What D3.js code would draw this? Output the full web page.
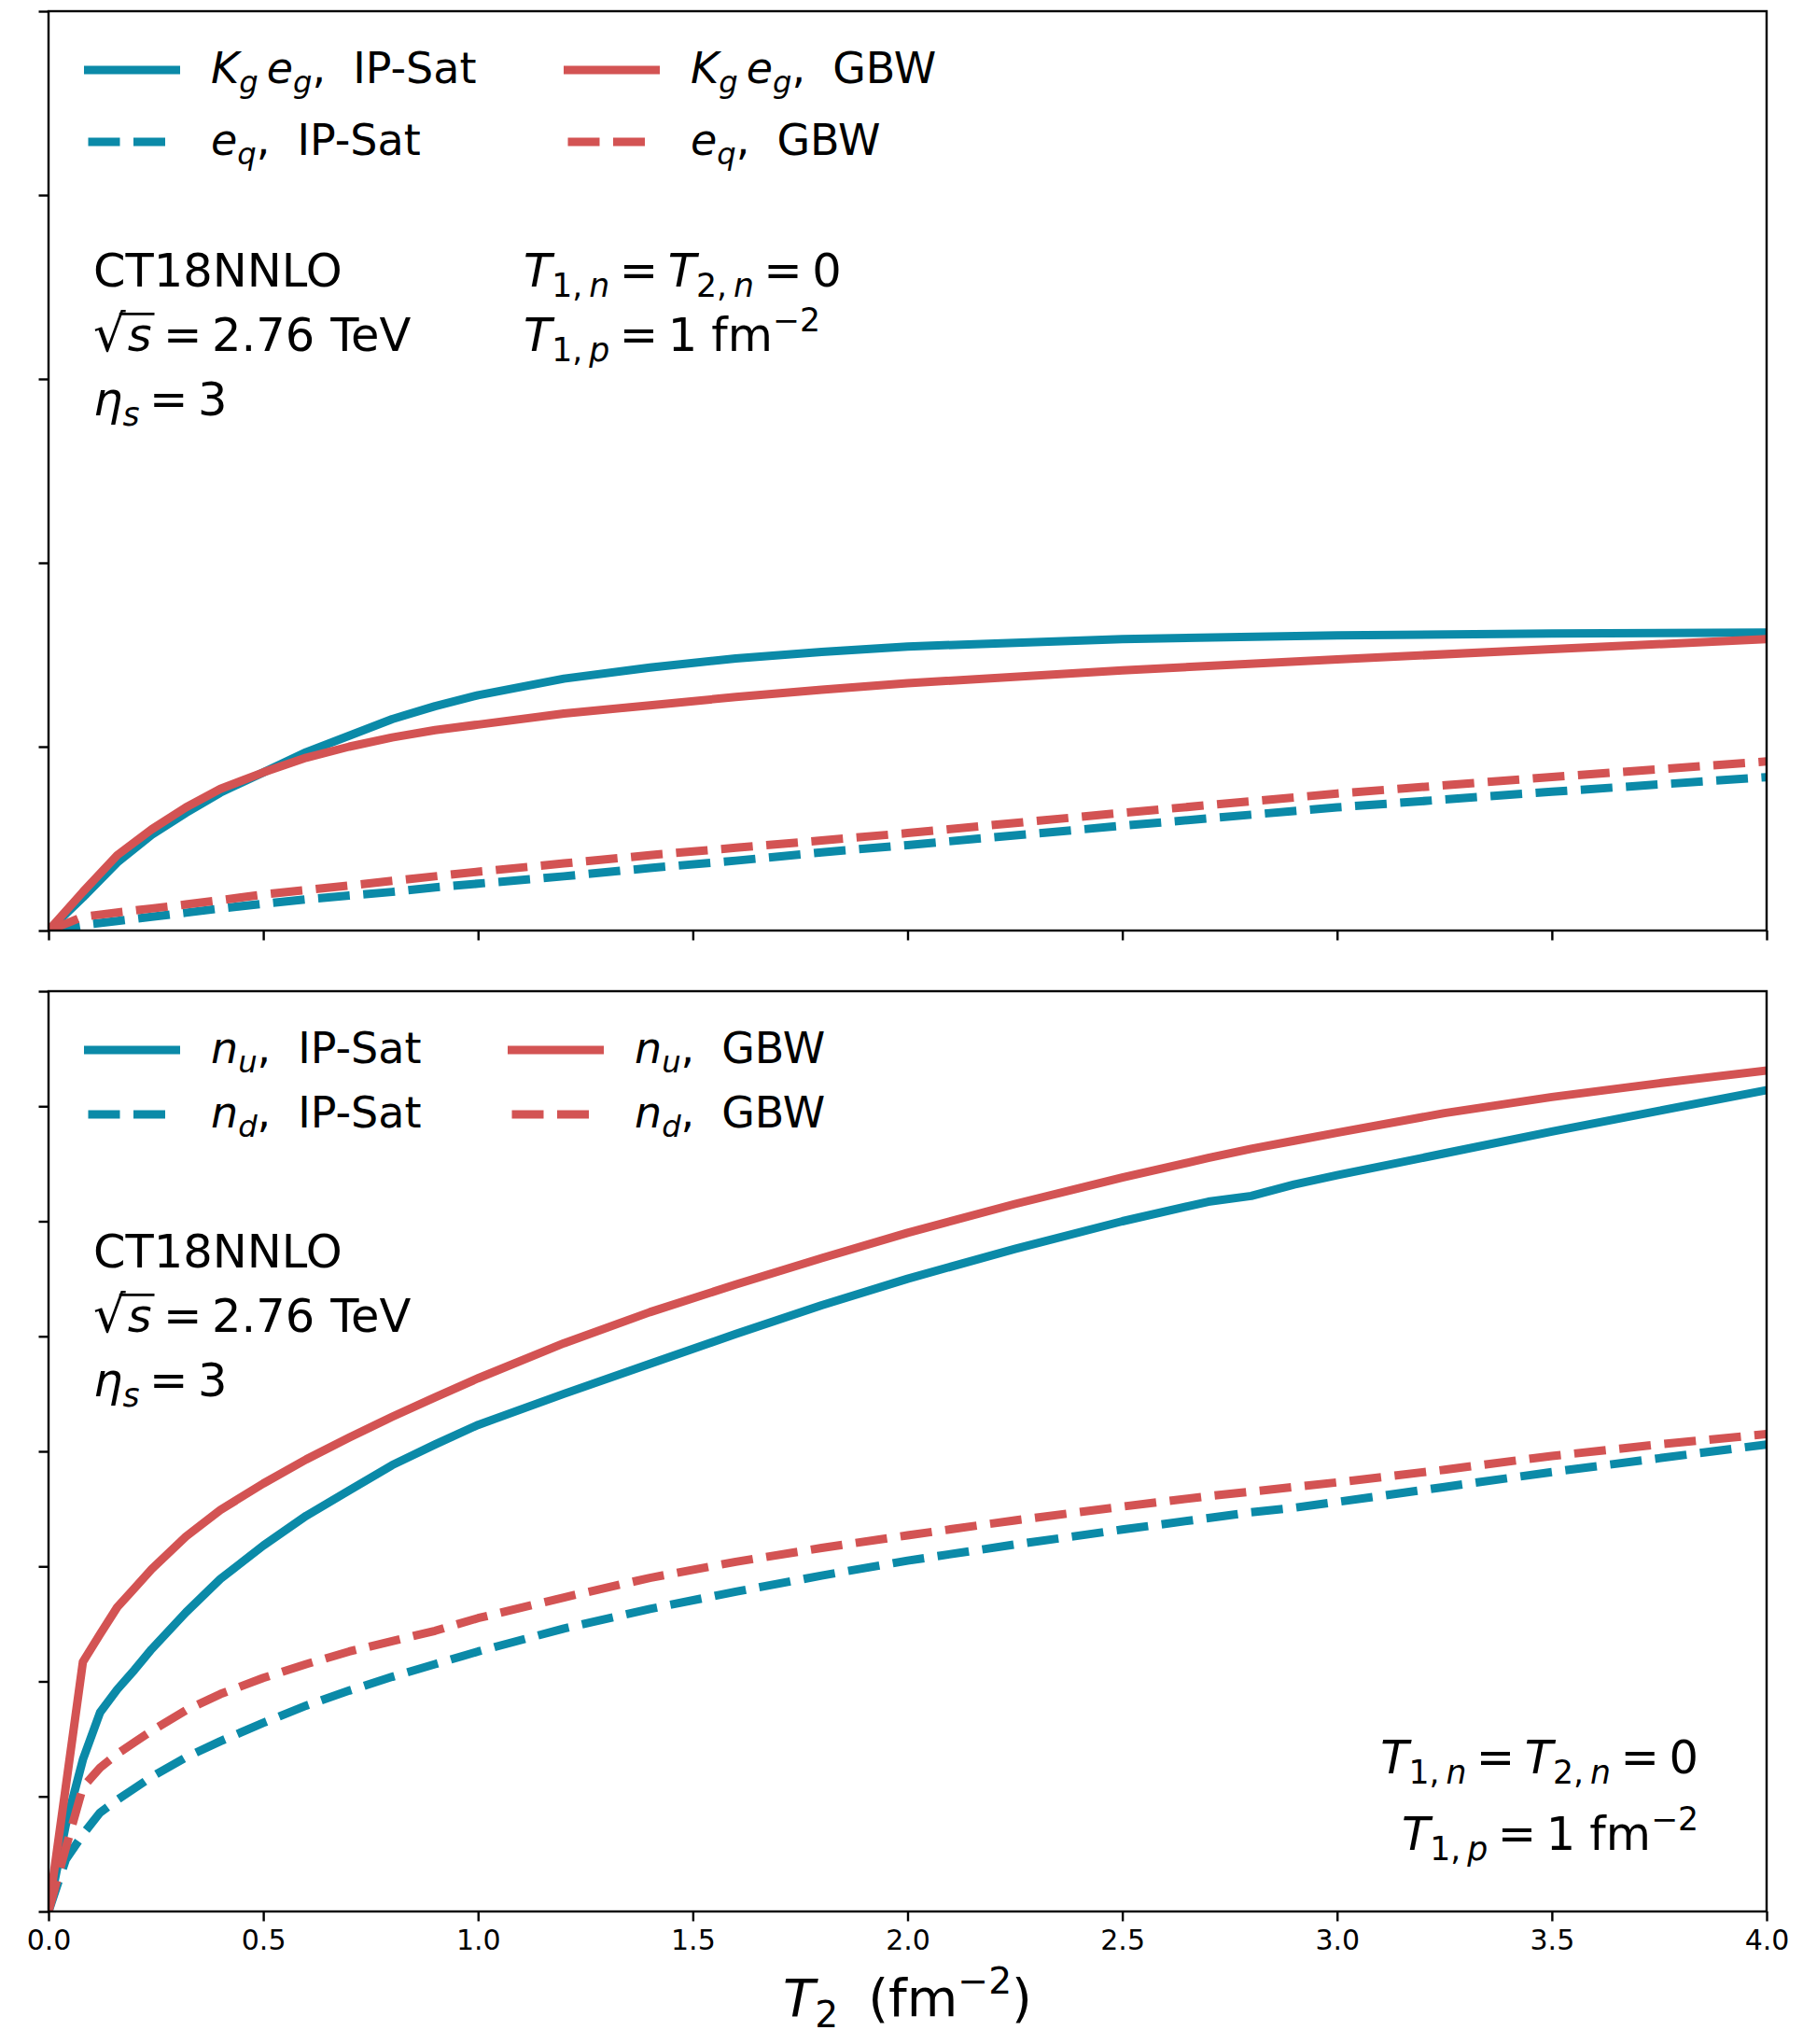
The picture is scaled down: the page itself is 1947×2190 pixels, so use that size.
<!DOCTYPE html>
<html>
<head>
<meta charset="utf-8">
<script src="https://cdn.jsdelivr.net/npm/d3@7"></script>
<style>
  html, body { margin: 0; padding: 0; background: #ffffff; }
  svg { display: block; }
  text { font-family: "DejaVu Sans", sans-serif; fill: #000; }
</style>
</head>
<body>
<svg id="chart" width="1947" height="2190"></svg>
<script>
// ---------------- data ----------------
const xTicks = [0, 0.5, 1.0, 1.5, 2.0, 2.5, 3.0, 3.5, 4.0];
const yTicksTop = [0, 1, 2, 3, 4, 5];
const yTicksBot = [0, 1, 2, 3, 4, 5, 6, 7, 8];

// top panel: K_g e_g and e_q vs T2
const T_top = [0, 0.08, 0.16, 0.24, 0.32, 0.4, 0.5, 0.6, 0.7, 0.8, 0.9, 1.0, 1.2, 1.4, 1.6, 1.8, 2.0, 2.5, 3.0, 3.5, 4.0];
const kgeg_ipsat = [0, 0.18, 0.37, 0.52, 0.64, 0.75, 0.86, 0.97, 1.06, 1.15, 1.22, 1.28, 1.37, 1.43, 1.48, 1.515, 1.545, 1.585, 1.605, 1.615, 1.62];
const eq_ipsat   = [0, 0.03, 0.052, 0.075, 0.097, 0.12, 0.146, 0.17, 0.19, 0.21, 0.235, 0.255, 0.295, 0.34, 0.38, 0.425, 0.465, 0.57, 0.67, 0.755, 0.834];
const kgeg_gbw   = [0, 0.21, 0.41, 0.55, 0.67, 0.77, 0.86, 0.94, 1.00, 1.05, 1.09, 1.12, 1.18, 1.225, 1.27, 1.31, 1.345, 1.415, 1.475, 1.53, 1.585];
const eq_gbw     = [0, 0.075, 0.098, 0.12, 0.142, 0.165, 0.196, 0.22, 0.245, 0.27, 0.295, 0.32, 0.365, 0.41, 0.45, 0.49, 0.53, 0.64, 0.745, 0.835, 0.92];

// bottom panel: n_u and n_d vs T2
const T_bot = [0, 0.04, 0.08, 0.12, 0.16, 0.2, 0.24, 0.32, 0.4, 0.5, 0.6, 0.7, 0.8, 0.9, 1.0, 1.2, 1.4, 1.6, 1.8, 2.0, 2.25, 2.5, 2.7, 2.8, 2.9, 3.0, 3.25, 3.5, 3.75, 4.0];
const nu_ipsat = [0, 0.75, 1.32, 1.73, 1.93, 2.10, 2.28, 2.60, 2.89, 3.18, 3.44, 3.66, 3.88, 4.06, 4.23, 4.50, 4.76, 5.02, 5.27, 5.50, 5.76, 6.00, 6.17, 6.22, 6.32, 6.40, 6.59, 6.78, 6.96, 7.14];
const nd_ipsat = [0, 0.45, 0.67, 0.86, 0.97, 1.07, 1.17, 1.34, 1.48, 1.64, 1.79, 1.92, 2.04, 2.15, 2.26, 2.46, 2.63, 2.78, 2.92, 3.05, 3.19, 3.32, 3.42, 3.47, 3.51, 3.56, 3.69, 3.82, 3.94, 4.06];
const nu_gbw   = [0, 1.08, 2.17, 2.41, 2.645, 2.81, 2.976, 3.26, 3.49, 3.72, 3.93, 4.12, 4.30, 4.47, 4.635, 4.94, 5.21, 5.45, 5.68, 5.90, 6.15, 6.38, 6.55, 6.63, 6.70, 6.77, 6.94, 7.08, 7.20, 7.31];
const nd_gbw   = [0, 0.55, 1.08, 1.25, 1.37, 1.47, 1.57, 1.75, 1.89, 2.03, 2.15, 2.26, 2.35, 2.44, 2.55, 2.73, 2.90, 3.04, 3.16, 3.27, 3.40, 3.52, 3.61, 3.65, 3.69, 3.73, 3.84, 3.96, 4.06, 4.15];

const BLUE = "#0b8aa8";
const RED = "#d35353";

// ---------------- layout ----------------
const L = 52, R = 1893;
const topPanel = { y0: 12, y1: 997, max: 5 };
const botPanel = { y0: 1062, y1: 2048, max: 8 };
const LW = 9;
const DASH = "34,14.5";

const svg = d3.select("#chart");
svg.append("rect").attr("width", 1947).attr("height", 2190).attr("fill", "#fff");

const x = d3.scaleLinear().domain([0, 4]).range([L, R]);

function rich(parent, px, py, parts, fs, anchor) {
  const t = parent.append("text")
    .attr("x", px).attr("y", py)
    .attr("font-size", fs)
    .attr("text-anchor", anchor || "start");
  let cur = 0;
  parts.forEach(p => {
    const shift = p.sub ? 0.22 * fs : (p.sup ? -0.42 * fs : 0);
    const ts = t.append("tspan").text(p.t).attr("dy", shift - cur);
    if (p.sub || p.sup) ts.attr("font-size", fs * 0.7);
    if (p.size) ts.attr("font-size", fs * p.size);
    if (p.i) ts.style("font-style", "italic");
    if (p.dx) ts.attr("dx", p.dx);
    cur = shift;
  });
  return t;
}

function drawPanel(panel, yTicks, T, series, showXLabels, id) {
  const y = d3.scaleLinear().domain([0, panel.max]).range([panel.y1, panel.y0]);
  const g = svg.append("g");
  g.append("clipPath").attr("id", id)
    .append("rect").attr("x", L).attr("y", panel.y0).attr("width", R - L).attr("height", panel.y1 - panel.y0);

  const line = d3.line().x((d, i) => x(T[i])).y(d => y(d));
  const lg = g.append("g").attr("clip-path", `url(#${id})`);
  series.forEach(s => {
    lg.append("path")
      .attr("d", line(s.values))
      .attr("fill", "none")
      .attr("stroke", s.color)
      .attr("stroke-width", LW)
      .attr("stroke-linejoin", "round")
      .attr("stroke-linecap", s.dashed ? "butt" : "square")
      .attr("stroke-dasharray", s.dashed ? DASH : null);
  });

  // frame
  g.append("rect").attr("x", L).attr("y", panel.y0).attr("width", R - L).attr("height", panel.y1 - panel.y0)
    .attr("fill", "none").attr("stroke", "#000").attr("stroke-width", 2.4);

  const xAxis = d3.axisBottom(x).tickValues(xTicks).tickSize(10.5).tickPadding(9)
    .tickFormat(showXLabels ? d3.format(".1f") : () => "");
  const xa = g.append("g").attr("transform", `translate(0,${panel.y1})`).call(xAxis);
  const yAxis = d3.axisLeft(y).tickValues(yTicks).tickSize(10.5).tickFormat(() => "");
  const ya = g.append("g").attr("transform", `translate(${L},0)`).call(yAxis);
  [xa, ya].forEach(a => {
    a.select(".domain").remove();
    a.selectAll(".tick line").attr("stroke", "#000").attr("stroke-width", 2.4);
    a.selectAll(".tick text").attr("font-size", 30).attr("font-family", "DejaVu Sans").attr("fill", "#000");
  });
  return g;
}

// ---------------- top panel ----------------
drawPanel(topPanel, yTicksTop, T_top, [
  { values: kgeg_ipsat, color: BLUE, dashed: false },
  { values: eq_ipsat, color: BLUE, dashed: true },
  { values: kgeg_gbw, color: RED, dashed: false },
  { values: eq_gbw, color: RED, dashed: true }
], false, "clipTop");

// ---------------- bottom panel ----------------
drawPanel(botPanel, yTicksBot, T_bot, [
  { values: nu_ipsat, color: BLUE, dashed: false },
  { values: nd_ipsat, color: BLUE, dashed: true },
  { values: nu_gbw, color: RED, dashed: false },
  { values: nd_gbw, color: RED, dashed: true }
], true, "clipBot");

// ---------------- legends ----------------
const LFS = 46;
const LGAP = 29;
function legendItem(hx, hy, color, dashed, parts) {
  svg.append("line")
    .attr("x1", hx + 4.5).attr("x2", hx + 98.5).attr("y1", hy).attr("y2", hy)
    .attr("stroke", color).attr("stroke-width", LW)
    .attr("stroke-linecap", dashed ? "butt" : "square")
    .attr("stroke-dasharray", dashed ? DASH : null);
  rich(svg, hx + 136, hy + 14, parts, LFS);
}
const TS = "\u2009";
// top legend
legendItem(90, 75, BLUE, false, [{t: "K", i: 1}, {t: "g", i: 1, sub: 1}, {t: TS + "e", i: 1}, {t: "g", i: 1, sub: 1}, {t: ","}, {t: "IP-Sat", dx: LGAP}]);
legendItem(90, 152, BLUE, true, [{t: "e", i: 1}, {t: "q", i: 1, sub: 1}, {t: ","}, {t: "IP-Sat", dx: LGAP}]);
legendItem(604, 75, RED, false, [{t: "K", i: 1}, {t: "g", i: 1, sub: 1}, {t: TS + "e", i: 1}, {t: "g", i: 1, sub: 1}, {t: ","}, {t: "GBW", dx: LGAP}]);
legendItem(604, 152, RED, true, [{t: "e", i: 1}, {t: "q", i: 1, sub: 1}, {t: ","}, {t: "GBW", dx: LGAP}]);
// bottom legend
legendItem(90, 1125, BLUE, false, [{t: "n", i: 1}, {t: "u", i: 1, sub: 1}, {t: ","}, {t: "IP-Sat", dx: LGAP}]);
legendItem(90, 1194, BLUE, true, [{t: "n", i: 1}, {t: "d", i: 1, sub: 1}, {t: ","}, {t: "IP-Sat", dx: LGAP}]);
legendItem(544, 1125, RED, false, [{t: "n", i: 1}, {t: "u", i: 1, sub: 1}, {t: ","}, {t: "GBW", dx: LGAP}]);
legendItem(544, 1194, RED, true, [{t: "n", i: 1}, {t: "d", i: 1, sub: 1}, {t: ","}, {t: "GBW", dx: LGAP}]);

// ---------------- annotations ----------------
const AFS = 49.5;
const EG = 10.5; // gap around relations
function sqrtLine(px, py) {
  const t = rich(svg, px, py, [
    {t: "\u221A", size: 1.1}, {t: "s", i: 1, dx: 2},
    {t: "=", dx: EG + 2}, {t: "2.76", dx: EG}, {t: "TeV", dx: 17}
  ], AFS);
  const node = t.node();
  const e0 = node.getExtentOfChar(0);
  const e1 = node.getExtentOfChar(1);
  svg.append("line")
    .attr("x1", e0.x + e0.width * 0.8).attr("x2", e1.x + e1.width + 3)
    .attr("y1", py - 0.80 * AFS).attr("y2", py - 0.80 * AFS)
    .attr("stroke", "#000").attr("stroke-width", 2.6);
}
function leftBlock(px, py0, dy) {
  rich(svg, px, py0, [{t: "CT18NNLO"}], AFS);
  sqrtLine(px, py0 + dy);
  rich(svg, px, py0 + 2 * dy, [{t: "\u03B7", i: 1}, {t: "s", i: 1, sub: 1}, {t: "=", dx: EG}, {t: "3", dx: EG}], AFS);
}
const tn = [{t: "T", i: 1}, {t: "1," + TS, sub: 1}, {t: "n", i: 1, sub: 1}, {t: "=", dx: EG}, {t: "T", i: 1, dx: EG}, {t: "2," + TS, sub: 1}, {t: "n", i: 1, sub: 1}, {t: "=", dx: EG}, {t: "0", dx: EG}];
const tp = [{t: "T", i: 1}, {t: "1," + TS, sub: 1}, {t: "p", i: 1, sub: 1}, {t: "=", dx: EG}, {t: "1", dx: EG}, {t: "fm", dx: 15}, {t: "\u22122", sup: 1}];

leftBlock(100, 307, 69);
rich(svg, 561, 307, tn, AFS);
rich(svg, 561, 376, tp, AFS);

leftBlock(100, 1358, 69);
rich(svg, 1820, 1900, tn, AFS, "end");
rich(svg, 1820, 1982, tp, AFS, "end");

// ---------------- x label ----------------
rich(svg, (L + R) / 2, 2160, [{t: "T", i: 1}, {t: "2", sub: 1}, {t: "(fm", dx: 32}, {t: "\u22122", sup: 1}, {t: ")"}], 56, "middle");
</script>
</body>
</html>
